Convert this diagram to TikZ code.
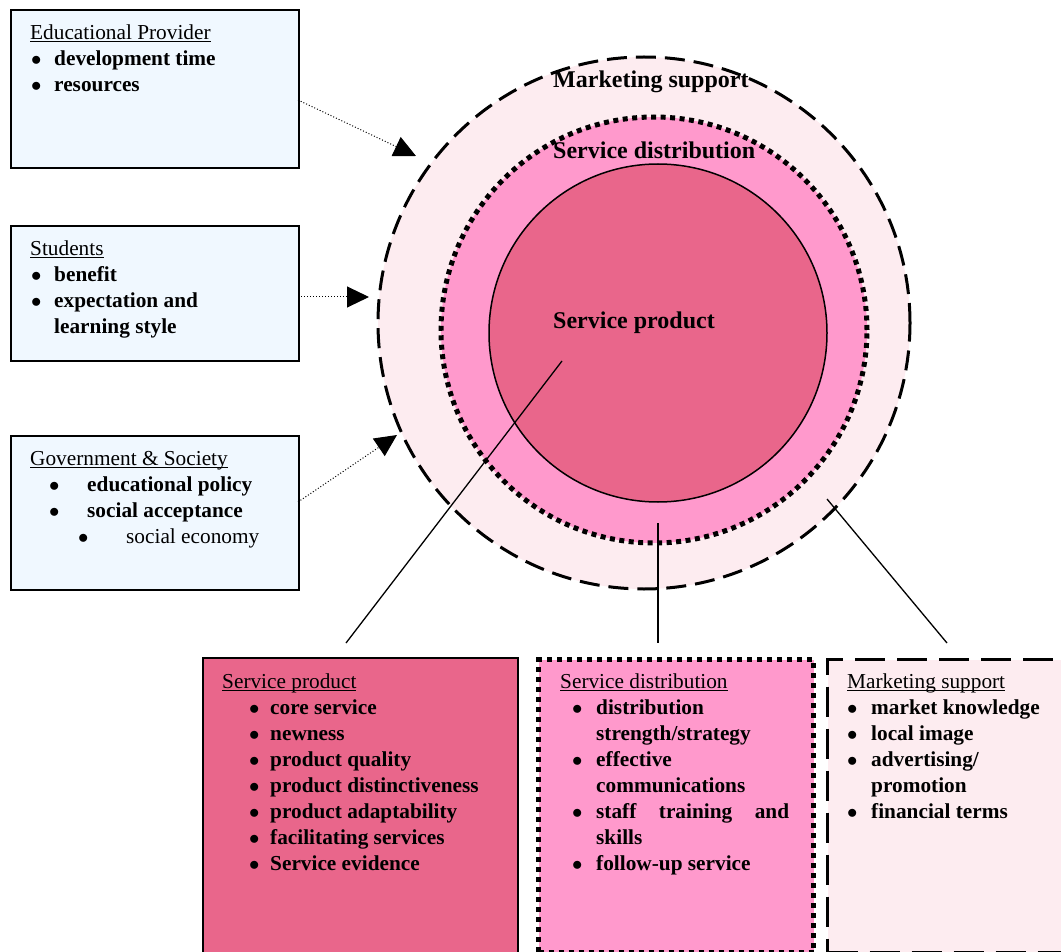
\documentclass[tikz,border=0pt]{standalone}
\usepackage{fontspec}
\setmainfont{Liberation Serif}
\usetikzlibrary{arrows.meta}
\definecolor{provblue}{HTML}{F0F8FF}
\definecolor{prodpink}{HTML}{E9668B}
\definecolor{distpink}{HTML}{FF99CC}
\definecolor{mktpink}{HTML}{FDECF0}
\newcommand{\bul}[1]{\makebox[#1][l]{$\bullet$}}
\newcommand{\ulin}[1]{\setbox0\hbox{#1}\rlap{\rule[-2.6pt]{\wd0}{0.9pt}}\box0}
\tikzset{
  bluebox/.style={draw, line width=1.6pt, fill=provblue, anchor=north west, inner sep=0pt},
  txt/.style={anchor=north west, inner sep=0pt, align=left, font=\fontsize{21.3}{26}\selectfont},
  circlabel/.style={anchor=base west, inner sep=0pt, font=\fontsize{24}{28}\selectfont\bfseries},
  influence/.style={dotted, line width=1pt, -{Triangle[length=22pt,width=21pt]}},
  link/.style={line width=1.3pt},
  mktring/.style={circle, inner sep=0pt, minimum size=532pt, fill=mktpink, draw, line width=3pt, dash pattern=on 20pt off 9pt},
  distring/.style={circle, inner sep=0pt, minimum size=426pt, fill=distpink, draw, line width=5pt, dash pattern=on 5pt off 4.5pt},
  prodring/.style={circle, inner sep=0pt, minimum size=338pt, fill=prodpink, draw, line width=1.5pt},
  prodbox/.style={draw, line width=1.6pt, fill=prodpink, anchor=north west, inner sep=0pt},
  distbox/.style={draw, line width=5pt, dash pattern=on 5pt off 5pt, fill=distpink, anchor=north west, inner sep=0pt},
  mktbox/.style={draw, line width=3pt, dash pattern=on 30pt off 12pt, fill=mktpink, anchor=north west, inner sep=0pt},
}
\begin{document}
\begin{tikzpicture}[x=1pt, y=-1pt]
\useasboundingbox (0,0) rectangle (1061,952);

% left boxes
\node[bluebox, minimum width=288pt, minimum height=158pt] (prov) at (10,9) {};
\node[bluebox, minimum width=288pt, minimum height=135pt] (stud) at (10,225) {};
\node[bluebox, minimum width=288pt, minimum height=154pt] (gov) at (10,435) {};

\node[txt] (provtxt) at (30,20.8) {\strut\ulin{Educational Provider}\\
  \hspace*{1pt}\bul{23pt}\textbf{development time}\\
  \hspace*{1pt}\bul{23pt}\textbf{resources}};
\node[txt] (studtxt) at (30,236.8) {\strut\ulin{Students}\\
  \hspace*{1pt}\bul{23pt}\textbf{benefit}\\
  \hspace*{1pt}\bul{23pt}\textbf{expectation and}\\
  \hspace*{24pt}\textbf{learning style}};
\node[txt] (govtxt) at (30,446.8) {\strut\ulin{Government \& Society}\\
  \hspace*{19pt}\bul{38pt}\textbf{educational policy}\\
  \hspace*{19pt}\bul{38pt}\textbf{social acceptance}\\
  \hspace*{48pt}\bul{48pt}social economy};

% circles
\node[mktring] (mkt) at (644,323) {};
\node[distring] (dist) at (654,330) {};
\node[prodring] (prod) at (658,333) {};

\node[circlabel] (mktlab) at (553,88) {Marketing support};
\node[circlabel] (distlab) at (553,159) {Service distribution};
\node[circlabel] (prodlab) at (553,328) {Service product};

% influence arrows
\coordinate (a1s) at (298,100); \coordinate (a1e) at (416,156);
\coordinate (a2s) at (298,297); \coordinate (a2e) at (369,297);
\coordinate (a3s) at (298,502); \coordinate (a3e) at (397,435);
\draw[influence] (a1s) -- (a1e);
\draw[influence] (a2s) -- (a2e);
\draw[influence] (a3s) -- (a3e);

% bottom boxes
\node[prodbox, minimum width=315pt, minimum height=320pt] (pbox) at (202,657) {};
\node[distbox, minimum width=275pt, minimum height=293pt] (dbox) at (536,657) {};
\node[mktbox, minimum width=260pt, minimum height=293pt] (mbox) at (826,658) {};

\node[txt] (ptxt) at (222,669.8) {\strut\ulin{Service product}\\
  \hspace*{27pt}\bul{21pt}\textbf{core service}\\
  \hspace*{27pt}\bul{21pt}\textbf{newness}\\
  \hspace*{27pt}\bul{21pt}\textbf{product quality}\\
  \hspace*{27pt}\bul{21pt}\textbf{product distinctiveness}\\
  \hspace*{27pt}\bul{21pt}\textbf{product adaptability}\\
  \hspace*{27pt}\bul{21pt}\textbf{facilitating services}\\
  \hspace*{27pt}\bul{21pt}\textbf{Service evidence}};
\node[txt] (dtxt) at (560,669.8) {\strut\ulin{Service distribution}\\
  \hspace*{12pt}\bul{24pt}\textbf{distribution}\\
  \hspace*{36pt}\textbf{strength/strategy}\\
  \hspace*{12pt}\bul{24pt}\textbf{effective}\\
  \hspace*{36pt}\textbf{communications}\\
  \hspace*{12pt}\bul{24pt}\makebox[193pt][s]{\textbf{staff training and}}\\
  \hspace*{36pt}\textbf{skills}\\
  \hspace*{12pt}\bul{24pt}\textbf{follow-up service}};
\node[txt] (mtxt) at (847,669.8) {\strut\ulin{Marketing support}\\
  \hspace*{0pt}\bul{24pt}\textbf{market knowledge}\\
  \hspace*{0pt}\bul{24pt}\textbf{local image}\\
  \hspace*{0pt}\bul{24pt}\textbf{advertising/}\\
  \hspace*{24pt}\textbf{promotion}\\
  \hspace*{0pt}\bul{24pt}\textbf{financial terms}};

% links from rings to boxes
\coordinate (l1s) at (562,361); \coordinate (l1e) at (346,643);
\coordinate (l2s) at (658,523); \coordinate (l2e) at (658,643);
\coordinate (l3s) at (827,499); \coordinate (l3e) at (947,643);
\draw[link] (l1s) -- (l1e);
\draw[link] (l2s) -- (l2e);
\draw[link] (l3s) -- (l3e);
\end{tikzpicture}
\end{document}
